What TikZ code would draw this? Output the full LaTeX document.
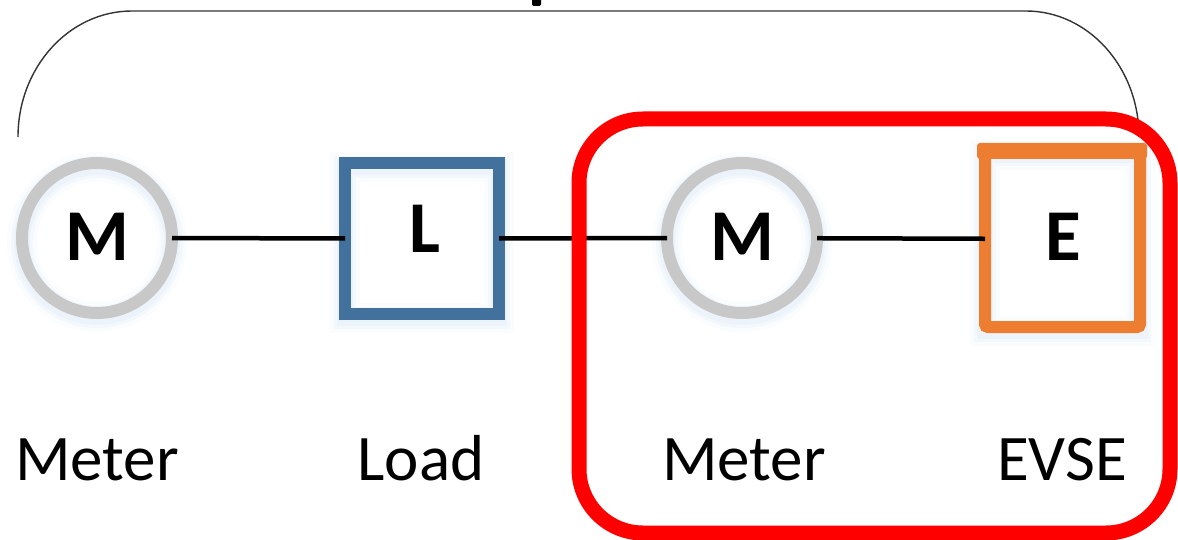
\documentclass[tikz,border=0pt]{standalone}
\usepackage{fontspec}
\setmainfont{Carlito}
\definecolor{ringgray}{HTML}{C8C8C8}
\definecolor{loadblue}{HTML}{41719C}
\definecolor{evseorange}{HTML}{ED7D31}
\definecolor{zonered}{HTML}{FF0000}
\definecolor{haze}{HTML}{9DC3E6}
\begin{document}
\begin{tikzpicture}[x=1pt,y=1pt,
  meterring/.style={circle, draw=ringgray, line width=12, minimum size=150, inner sep=0, outer sep=0},
  loadbox/.style={rectangle, draw=loadblue, line width=12, minimum width=154, minimum height=151, inner sep=0, outer sep=0},
  evsebox/.style={rectangle, draw=evseorange, line width=12, rounded corners=3, minimum width=155, minimum height=176, inner sep=0, outer sep=0},
  letter/.style={font=\bfseries\fontsize{73}{73}\selectfont, anchor=base, inner sep=0},
  caption/.style={font=\fontsize{65}{65}\selectfont, anchor=base, inner sep=0},
  wire/.style={draw=black, line width=4.5},
  zone/.style={draw=zonered, line width=15, rounded corners=64},
  brace/.style={draw=black!80, line width=1.4},
  glowa/.style={draw=haze, line width=30, opacity=0.05},
  glowb/.style={draw=haze, line width=22, opacity=0.07},
  glowc/.style={draw=haze, line width=16, opacity=0.09}]
\useasboundingbox (0,0) rectangle (1178,-540);

% centres of the four elements
\coordinate (cM1) at (97,-238);
\coordinate (cL)  at (422,-238.5);
\coordinate (cM2) at (742,-238);
\coordinate (cE)  at (1062.5,-239);

% soft haze below the shapes
\foreach \g in {glowa,glowb,glowc}{
  \draw[\g] ([yshift=-4]cM1) circle[radius=75];
  \draw[\g] ([yshift=-4]cM2) circle[radius=75];
  \draw[\g] ([shift={(-77,-79.5)}]cL) rectangle ([shift={(77,71.5)}]cL);
  \draw[\g] ([shift={(-77.5,-92)}]cE) rectangle ([shift={(77.5,84)}]cE);
}

% brace spanning the whole chain
\draw[brace] (18,-137) arc[start angle=180, end angle=90, x radius=114, y radius=126]
  -- (1026,-11) arc[start angle=90, end angle=0, x radius=113, y radius=126];
\fill[rounded corners=2] (532,3) rectangle (541,-6);

% elements
\node[meterring] (m1) at (cM1) {};
\node[loadbox]   (l)  at (cL)  {};
\node[meterring] (m2) at (cM2) {};
\node[evsebox]   (e)  at (cE)  {};
\fill[evseorange, rounded corners=3] (977,-143) rectangle (1147,-159);

\node[letter] (tm1) at (97,-260)  {M};
\node[letter] (tl)  at (425,-252) {L};
\node[letter] (tm2) at (742,-260) {M};
\node[letter] (te)  at (1063,-260) {E};

% wiring
\draw[wire] (m1) -- (l);
\draw[wire] (l) -- (m2);
\draw[wire] (m2) -- (e);

% highlighted charging zone
\draw[zone] (579,-119) rectangle (1170,-533);

% captions
\node[caption] (cap1) at (97,-480)   {Meter};
\node[caption] (cap2) at (421,-480)  {Load};
\node[caption] (cap3) at (744,-480)  {Meter};
\node[caption] (cap4) at (1062,-480) {EVSE};
\end{tikzpicture}
\end{document}
